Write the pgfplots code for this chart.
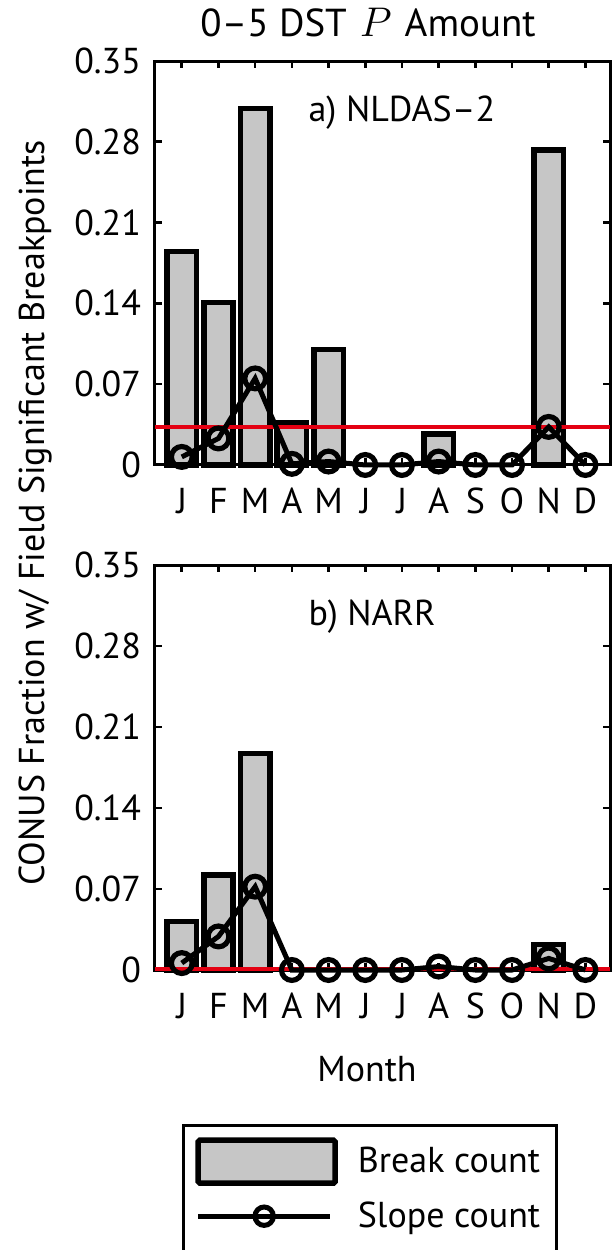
\documentclass[border=0pt]{standalone}
\usepackage{fontspec}
\setmainfont{PT Sans}
\usepackage{pgfplots}
\pgfplotsset{compat=1.18}
\definecolor{bargray}{RGB}{198,198,198}
\definecolor{thr}{RGB}{228,0,18}
\newcommand{\bigf}{\fontsize{18}{21.6}\selectfont}
\pgfplotsset{
 panel/.style={
  scale only axis, width=227.5pt,
  xmin=0.27, xmax=12.67, ymin=0, ymax=0.35,
  xtick={1,...,12}, xticklabels={J,F,M,A,M,J,J,A,S,O,N,D},
  ytick={0,0.07,0.14,0.21,0.28,0.35}, yticklabels={0,0.07,0.14,0.21,0.28,0.35},
  tick align=inside, major tick length=3.5pt,
  every tick/.style={black, line width=1.3pt},
  axis line style={line width=1.5pt},
  xticklabel style={yshift=-8pt},
  yticklabel style={xshift=-3.5pt},
  clip=false,
  font=\bigf,
  ticklabel style={font=\bigf},
  anchor=south west,
 },
 brk/.style={ybar, bar width=0.8, bar shift=0pt, fill=bargray, draw=black, line width=2.7pt},
 slp/.style={black, line width=2.5pt, mark=o, mark size=5.2pt, mark options={line width=2.6pt, solid}},
 thrline/.style={thr, line width=2.2pt},
}
\begin{document}
\begin{tikzpicture}
% top panel
\begin{axis}[panel, height=202pt, at={(77.5pt,392.5pt)}]
\addplot[brk] coordinates {(1,0.185)(2,0.141)(3,0.309)(4,0.037)(5,0.100)(8,0.027)(11,0.273)};
\addplot[thrline] coordinates {(0.27,0.033)(12.67,0.033)};
\addplot[slp] coordinates {(1,0.007)(2,0.023)(3,0.075)(4,0.001)(5,0.003)(6,0)(7,0)(8,0.003)(9,0)(10,0)(11,0.033)(12,0)};
\node[anchor=west, font=\bigf] at (rel axis cs:0.322,0.873) {a) NLDAS–2};
\end{axis}
% bottom panel
\begin{axis}[panel, height=202.5pt, at={(77.5pt,140pt)},
  legend style={at={(0.0593,-0.3802)}, anchor=north west, draw=black, line width=1.5pt,
    font=\bigf, inner xsep=6pt, inner ysep=6pt, row sep=6pt, column sep=8pt},
  legend cell align=left]
\addplot[brk, legend image code/.code={\draw[fill=bargray, draw=black, line width=2.7pt, rounded corners=0.8pt] (0pt,-10.75pt) rectangle (68.5pt,10.75pt);}]
  coordinates {(1,0.042)(2,0.082)(3,0.187)(11,0.022)};
\addlegendentry{Break count\hspace{24pt}}
\addplot[thrline, forget plot] coordinates {(0.27,0.001)(12.67,0.001)};
\addplot[slp, legend image code/.code={\draw[black, line width=2.5pt] (0pt,0pt) -- (66pt,0pt); \draw[black, line width=2.5pt] (33pt,0pt) circle (4.6pt);}]
  coordinates {(1,0.006)(2,0.029)(3,0.072)(4,0)(5,0)(6,0)(7,0)(8,0.003)(9,0)(10,0)(11,0.010)(12,0)};
\addlegendentry{Slope count}
\addlegendimage{empty legend}
\addlegendentry{}
\node[anchor=west, font=\bigf] at (rel axis cs:0.322,0.873) {b) NARR};
\end{axis}
\node[anchor=base, font=\fontsize{19.5}{23}\selectfont] at (184pt,606.5pt) {0–5 DST\,\,$P$\,\,Amount};
\node[anchor=base, font=\bigf] at (183.5pt,84pt) {Month};
\node[rotate=90, anchor=base, font=\bigf] at (22.5pt,368.5pt) {CONUS Fraction w/ Field Significant Breakpoints};
\pgfresetboundingbox
\useasboundingbox (0,0) rectangle (307.5pt,625pt);
\end{tikzpicture}
\end{document}
